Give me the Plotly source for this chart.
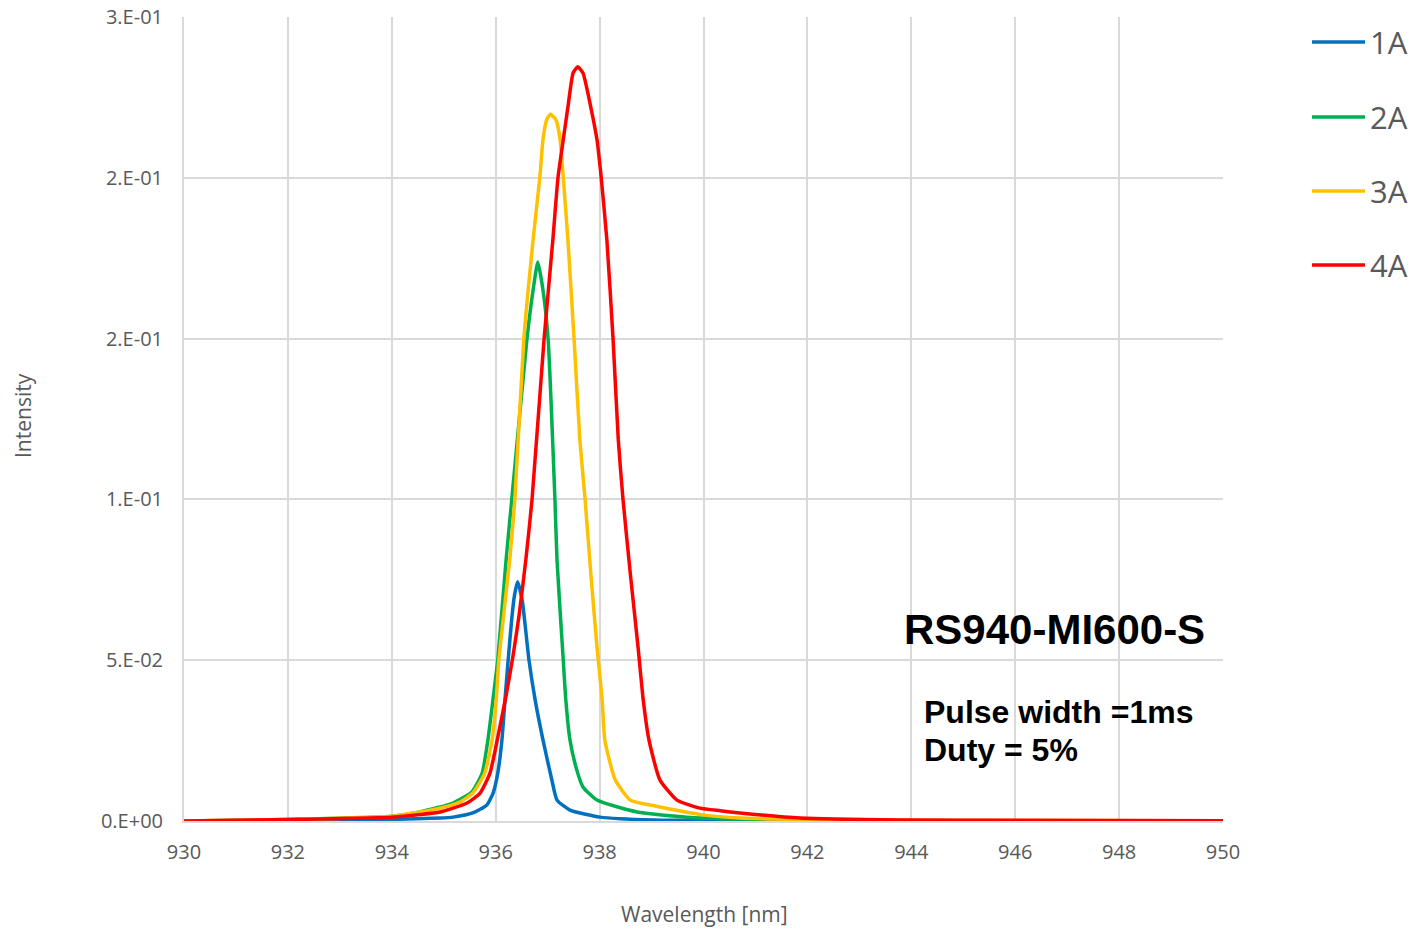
import plotly.graph_objects as go

# ---- data ----
wl_1a = [930.0, 932.0, 934.0, 934.93, 935.18, 935.56, 935.83, 935.95, 936.04, 936.12, 936.19, 936.25, 936.31,
         936.36, 936.42, 936.51, 936.64, 936.76, 936.91, 937.08, 937.18, 937.43, 938.01, 939.03, 940.0, 942.0,
         946.0, 950.0]
int_1a = [0.0, 0.0002, 0.0005, 0.0009, 0.0012, 0.0025, 0.0050, 0.0087, 0.0149, 0.0252, 0.0400, 0.0520, 0.0630,
          0.0700, 0.0744, 0.0687, 0.0501, 0.0376, 0.0252, 0.0128, 0.0065, 0.0034, 0.0012, 0.0003, 0.0002, 0.0001,
          0.0, 0.0]

wl_2a = [930.0, 932.0, 934.0, 934.54, 935.18, 935.54, 935.74, 935.85, 935.97, 936.04, 936.20, 936.31,
         936.60, 936.72, 936.81, 936.91, 937.01, 937.14, 937.18, 937.30, 937.35, 937.43, 937.56, 937.68, 937.95,
         938.72, 939.68, 940.70, 942.0, 946.0, 950.0]
int_2a = [0.0, 0.0005, 0.0015, 0.0028, 0.0056, 0.0090, 0.0149, 0.0252, 0.0407, 0.0501, 0.0812, 0.1001,
          0.1496, 0.1651, 0.1738, 0.1651, 0.1496, 0.1001, 0.0812, 0.0501, 0.0376, 0.0252, 0.0159, 0.0106, 0.0065,
          0.0028, 0.0012, 0.0006, 0.0003, 0.0001, 0.0001]

wl_3a = [930.0, 932.0, 934.0, 934.54, 934.93, 935.31, 935.56, 935.79, 935.93, 936.01, 936.06, 936.27, 936.37,
         936.54, 936.72, 936.85, 936.91, 936.98, 937.05, 937.16, 937.24, 937.30, 937.39, 937.51, 937.62, 937.72,
         937.83, 937.95, 938.05, 938.10, 938.30, 938.59, 939.03, 939.99, 940.70, 942.0, 944.0, 950.0]
int_3a = [0.0, 0.0005, 0.0015, 0.0028, 0.0040, 0.0059, 0.0087, 0.0149, 0.0252, 0.0376, 0.0501, 0.0812, 0.1001,
          0.1496, 0.1807, 0.2002, 0.2118, 0.2180, 0.2198, 0.2180, 0.2118, 0.2002, 0.1807, 0.1496, 0.1185, 0.1001,
          0.0771, 0.0541, 0.0376, 0.0252, 0.0128, 0.0065, 0.0048, 0.0019, 0.0009, 0.0005, 0.0002, 0.0001]

wl_4a = [930.0, 932.0, 934.0, 934.54, 934.93, 935.45, 935.70, 935.89, 936.03, 936.20, 936.33, 936.45, 936.58,
         936.70, 936.93, 937.10, 937.20, 937.30, 937.39, 937.49, 937.58, 937.68, 937.83, 937.95, 938.03, 938.14,
         938.26, 938.36, 938.45, 938.59, 938.74, 938.84, 938.95, 939.16, 939.49, 939.93, 940.32, 940.70, 941.86,
         943.78, 946.0, 950.0]
int_4a = [0.0, 0.0005, 0.0012, 0.0020, 0.0028, 0.0056, 0.0087, 0.0149, 0.0252, 0.0390, 0.0510, 0.0640, 0.0812,
          0.1001, 0.1496, 0.1807, 0.2002, 0.2118, 0.2220, 0.2326, 0.2345, 0.2326, 0.2220, 0.2118, 0.2002, 0.1807,
          0.1496, 0.1185, 0.1001, 0.0771, 0.0541, 0.0376, 0.0252, 0.0128, 0.0065, 0.0040, 0.0032, 0.0025, 0.0009,
          0.0003, 0.0002, 0.0001]

series_names = ["1A", "2A", "3A", "4A"]
series_colors = ["#0070C0", "#00B050", "#FFC000", "#FF0000"]

x_ticks = [930, 932, 934, 936, 938, 940, 942, 944, 946, 948, 950]
y_tickvals = [0, 0.05, 0.1, 0.15, 0.2, 0.25]
y_ticktext = ["0.E+00", "5.E-02", "1.E-01", "2.E-01", "2.E-01", "3.E-01"]

# page is shown with body margin removed (see post_script), so page px == figure px
W, H = 1417, 932
ML, MT = 184, 17
MR = W - 1223
MB = H - 821
PW, PH = W - ML - MR, H - MT - MB


def px_x(x):
    return (x - ML) / PW


def px_y(y):
    return (H - MB - y) / PH


fig = go.Figure()
for name, color, xs, ys in zip(series_names, series_colors,
                               [wl_1a, wl_2a, wl_3a, wl_4a],
                               [int_1a, int_2a, int_3a, int_4a]):
    fig.add_trace(go.Scatter(x=xs, y=ys, mode="lines", name=name, showlegend=False,
                             line=dict(color=color, width=3.5, shape="spline", smoothing=0.5)))

grid = "#D9D9D9"
grey = "#595959"
sans = "Open Sans, Liberation Sans, sans-serif"
tick_font = dict(family=sans, size=20, color=grey)

shapes = []
annotations = []
# manual legend (line sample + label), matching the reference's spacing
legend_y = [42, 117, 191, 265]
for name, color, ly in zip(series_names, series_colors, legend_y):
    shapes.append(dict(type="line", xref="paper", yref="paper",
                       x0=px_x(1312), x1=px_x(1365), y0=px_y(ly), y1=px_y(ly),
                       line=dict(color=color, width=3.5)))
    annotations.append(dict(text=name, x=px_x(1368), y=px_y(ly), xref="paper", yref="paper",
                            showarrow=False, xanchor="left", yanchor="middle",
                            font=dict(family=sans, size=31, color=grey)))

annotations += [
    dict(text="<b>RS940-MI600-S</b>", x=px_x(1207), y=px_y(629), xref="paper", yref="paper",
         showarrow=False, xanchor="right", yanchor="middle",
         font=dict(family="Liberation Sans, Arial, sans-serif", size=42, color="black")),
    dict(text="<b>Pulse width =1ms</b>", x=px_x(922), y=px_y(712), xref="paper", yref="paper",
         showarrow=False, xanchor="left", yanchor="middle",
         font=dict(family="Liberation Sans, Arial, sans-serif", size=32, color="black")),
    dict(text="<b>Duty = 5%</b>", x=px_x(922), y=px_y(750), xref="paper", yref="paper",
         showarrow=False, xanchor="left", yanchor="middle",
         font=dict(family="Liberation Sans, Arial, sans-serif", size=32, color="black")),
    dict(text="Intensity", x=px_x(23), y=px_y(416), xref="paper", yref="paper", textangle=-90,
         showarrow=False, xanchor="center", yanchor="middle",
         font=dict(family=sans, size=21, color=grey)),
    dict(text="Wavelength [nm]", x=px_x(704), y=px_y(914), xref="paper", yref="paper",
         showarrow=False, xanchor="center", yanchor="middle",
         font=dict(family=sans, size=21, color=grey)),
]

fig.update_layout(
    width=W, height=H,
    paper_bgcolor="white", plot_bgcolor="white",
    margin=dict(l=ML, r=MR, t=MT, b=MB, autoexpand=False),
    showlegend=False,
    xaxis=dict(range=[930, 950], tickvals=x_ticks, ticktext=[str(v) for v in x_ticks],
               showgrid=True, gridcolor=grid, gridwidth=2, zeroline=False,
               showline=True, linecolor=grid, linewidth=2, ticks="",
               tickfont=tick_font, ticklabelstandoff=12, ticklabeloverflow="allow"),
    yaxis=dict(range=[0, 0.25], tickvals=y_tickvals, ticktext=y_ticktext,
               showgrid=True, gridcolor=grid, gridwidth=2, zeroline=False,
               showline=True, linecolor=grid, linewidth=2, ticks="",
               tickfont=tick_font, ticklabelstandoff=15, ticklabeloverflow="allow"),
    shapes=shapes,
    annotations=annotations,
)

fig.write_html(
    "out.html",
    config={"displayModeBar": False},
    post_script="document.body.style.margin='0';document.body.style.overflow='hidden';",
)
